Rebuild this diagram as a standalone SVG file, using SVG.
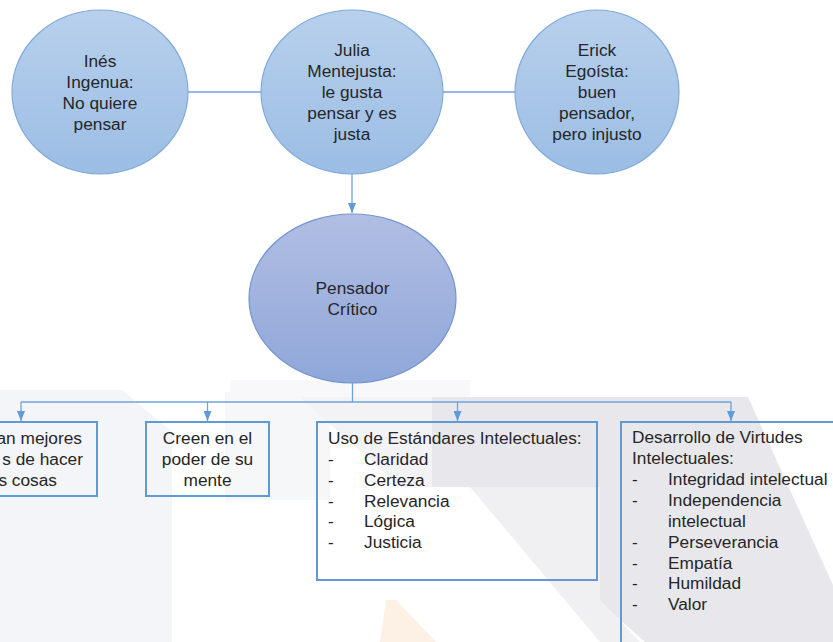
<svg xmlns="http://www.w3.org/2000/svg" width="833" height="642" viewBox="0 0 833 642">
  <defs>
    <linearGradient id="gBlue" x1="0" y1="0" x2="0" y2="1">
      <stop offset="0" stop-color="#b8d0ec"/>
      <stop offset="1" stop-color="#9bbde4"/>
    </linearGradient>
    <linearGradient id="gViolet" x1="0" y1="0" x2="0" y2="1">
      <stop offset="0" stop-color="#b1bee3"/>
      <stop offset="1" stop-color="#8fa7d9"/>
    </linearGradient>
    <marker id="arrow" viewBox="0 0 10 8" refX="10" refY="4" markerWidth="10" markerHeight="8" markerUnits="userSpaceOnUse" orient="auto">
      <path d="M0,0 L10,4 L0,8 Z" fill="#5e9bd8"/>
    </marker>
    <style>
      .txt { font-family: "Liberation Sans", Arial, sans-serif; font-size: 17.3px; fill: #262626; }
      .mid { text-anchor: middle; }
      .circle { fill: url(#gBlue); stroke: #80aadb; stroke-width: 1.2; }
      .oval { fill: url(#gViolet); stroke: #7394d2; stroke-width: 1.2; }
      .box { fill: none; stroke: #5f9ad6; stroke-width: 2; }
      .conn { fill: none; stroke: #6ea3db; stroke-width: 1.3; }
      .arr { marker-end: url(#arrow); }
    </style>
  </defs>

  <!-- faint background watermark -->
  <g id="watermark">
    <polygon points="0,390 122,390 172,432 172,642 0,642" fill="#f4f5f8"/>
    <polygon points="225,392 330,386 330,500 225,500" fill="#f6f7f9"/>
    <polygon points="230,380 470,380 470,402 230,402" fill="#f8f8fa"/>
    <polygon points="300,397 432,397 432,487 400,487" fill="#f3f3f6"/>
    <polygon points="432,397 748,397 833,585 833,642 645,642 470,487 432,487" fill="#e8e8ec"/>
    <polygon points="470,487 600,487 600,600 640,642 600,642" fill="#f0f0f3"/>
    <polygon points="386,600 396,600 436,642 380,642" fill="#fdf1e5"/>
  </g>

  <!-- connectors -->
  <g id="connectors">
    <line class="conn" x1="188" y1="92" x2="261" y2="92"/>
    <line class="conn" x1="443" y1="92" x2="515" y2="92"/>
    <line class="conn arr" x1="352" y1="174" x2="352" y2="213"/>
    <line class="conn" x1="352.5" y1="383" x2="352.5" y2="402"/>
    <line class="conn" x1="21" y1="402" x2="731" y2="402"/>
    <line class="conn arr" x1="21" y1="402" x2="21" y2="421"/>
    <line class="conn arr" x1="207.5" y1="402" x2="207.5" y2="421"/>
    <line class="conn arr" x1="457.5" y1="402" x2="457.5" y2="421"/>
    <line class="conn arr" x1="731" y1="402" x2="731" y2="421"/>
  </g>

  <g id="ines">
    <ellipse class="circle" cx="100" cy="92" rx="88" ry="82"/>
    <text class="txt mid" x="100" y="67">Inés</text>
    <text class="txt mid" x="100" y="88">Ingenua:</text>
    <text class="txt mid" x="100" y="109">No quiere</text>
    <text class="txt mid" x="100" y="130">pensar</text>
  </g>

  <g id="julia">
    <ellipse class="circle" cx="352" cy="92" rx="91" ry="82"/>
    <text class="txt mid" x="352" y="56">Julia</text>
    <text class="txt mid" x="352" y="77">Mentejusta:</text>
    <text class="txt mid" x="352" y="98">le gusta</text>
    <text class="txt mid" x="352" y="119">pensar y es</text>
    <text class="txt mid" x="352" y="140">justa</text>
  </g>

  <g id="erick">
    <ellipse class="circle" cx="597" cy="92" rx="82" ry="82"/>
    <text class="txt mid" x="597" y="56">Erick</text>
    <text class="txt mid" x="597" y="77">Egoísta:</text>
    <text class="txt mid" x="597" y="98">buen</text>
    <text class="txt mid" x="597" y="119">pensador,</text>
    <text class="txt mid" x="597" y="140">pero injusto</text>
  </g>

  <g id="pensador">
    <ellipse class="oval" cx="352.5" cy="298.5" rx="103.5" ry="84.5"/>
    <text class="txt mid" x="352.5" y="294">Pensador</text>
    <text class="txt mid" x="352.5" y="315">Crítico</text>
  </g>

  <g id="mejores">
    <rect class="box" x="-60" y="422" width="157" height="74"/>
    <text class="txt" x="82" y="444" text-anchor="end">an mejores</text>
    <text class="txt" x="83" y="465" text-anchor="end">s de hacer</text>
    <text class="txt" x="57" y="486" text-anchor="end">s cosas</text>
  </g>

  <g id="creen">
    <rect class="box" x="146" y="422" width="123" height="74"/>
    <text class="txt mid" x="207.5" y="444">Creen en el</text>
    <text class="txt mid" x="207.5" y="465">poder de su</text>
    <text class="txt mid" x="207.5" y="486">mente</text>
  </g>

  <g id="estandares">
    <rect class="box" x="317" y="422" width="280" height="158"/>
    <text class="txt" x="328" y="444">Uso de Estándares Intelectuales:</text>
    <g class="txt">
      <text x="328" y="465">-</text><text x="364" y="465">Claridad</text>
      <text x="328" y="486">-</text><text x="364" y="486">Certeza</text>
      <text x="328" y="507">-</text><text x="364" y="507">Relevancia</text>
      <text x="328" y="527">-</text><text x="364" y="527">Lógica</text>
      <text x="328" y="548">-</text><text x="364" y="548">Justicia</text>
    </g>
  </g>

  <g id="virtudes">
    <rect class="box" x="621" y="422" width="260" height="260"/>
    <g class="txt">
      <text x="632" y="443">Desarrollo de Virtudes</text>
      <text x="632" y="464">Intelectuales:</text>
      <text x="632" y="485">-</text><text x="668" y="485">Integridad intelectual</text>
      <text x="632" y="506">-</text><text x="668" y="506">Independencia</text>
      <text x="668" y="527">intelectual</text>
      <text x="632" y="548">-</text><text x="668" y="548">Perseverancia</text>
      <text x="632" y="569">-</text><text x="668" y="569">Empatía</text>
      <text x="632" y="589">-</text><text x="668" y="589">Humildad</text>
      <text x="632" y="610">-</text><text x="668" y="610">Valor</text>
    </g>
  </g>
</svg>
